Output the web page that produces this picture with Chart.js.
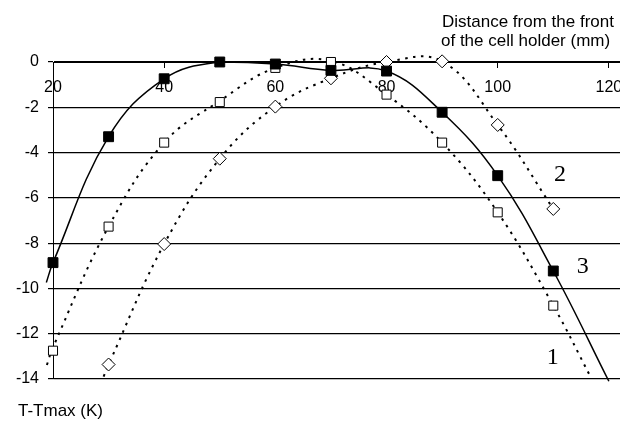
<!DOCTYPE html>
<html>

<head>
    <title>T - Tmax along the cell holder</title>
    <script src="https://cdn.jsdelivr.net/npm/chart.js"></script>
    <style>
        body { margin: 0; background: #fff; }
    </style>
</head>

<body>
    <canvas id="profileChart" width="620" height="421"></canvas>

    <script>
        // Measured points (distance in mm, T-Tmax in K)
        const dist1 = [20, 30, 40, 50, 60, 70, 80, 90, 100, 110];
        const temp1 = [-12.75, -7.27, -3.56, -1.77, -0.26, 0.0, -1.44, -3.56, -6.64, -10.76];

        const dist2 = [30, 40, 50, 60, 70, 80, 90, 100, 110];
        const temp2 = [-13.36, -8.04, -4.27, -1.97, -0.72, 0.0, 0.03, -2.78, -6.49];

        const dist3 = [20, 30, 40, 50, 60, 70, 80, 90, 100, 110];
        const temp3 = [-8.86, -3.3, -0.74, 0.0, -0.09, -0.37, -0.4, -2.22, -5.02, -9.23];

        // Fitted curves (they run a bit past the points)
        const fit1X = [18.9, 20, 30, 40, 50, 60, 70, 80, 90, 100, 110, 116.8];
        const fit1Y = [-13.38, -12.6, -7.27, -3.56, -1.72, -0.26, 0.05, -1.44, -3.56, -6.64, -10.76, -13.95];

        const fit2X = [29.1, 30, 40, 50, 60, 70, 80, 90, 100, 110];
        const fit2Y = [-13.9, -13.36, -8.04, -4.27, -1.97, -0.72, 0.0, 0.03, -2.78, -6.49];

        const fit3X = [18.8, 20, 30, 40, 50, 60, 70, 80, 90, 100, 110, 120];
        const fit3Y = [-9.74, -8.86, -3.3, -0.74, 0.0, -0.09, -0.37, -0.4, -2.22, -5.02, -9.23, -14.1];

        // curve numbers written next to the curves
        const curveNames = ['1', '2', '3'];
        const nameX = [109.9, 111.2, 115.3];
        const nameY = [-13.07, -4.99, -9.05];

        const xTicks = [20, 40, 60, 80, 100, 120];
        const yTicks = [0, -2, -4, -6, -8, -10, -12, -14];

        const toPts = (xs, ys) => xs.map((x, i) => ({ x: x, y: ys[i] }));

        const textPlugin = {
            id: 'captions',
            afterDraw(chart) {
                const ctx = chart.ctx;
                const xs = chart.scales.x, ys = chart.scales.y;
                ctx.save();
                ctx.fillStyle = '#000';
                ctx.font = '17px "Liberation Sans", Arial, sans-serif';
                ctx.textAlign = 'left';
                ctx.textBaseline = 'alphabetic';
                ctx.fillText('Distance from the front', 442, 27);
                ctx.fillText('of the cell holder (mm)', 441, 46);
                ctx.fillText('T-Tmax (K)', 18, 416);

                ctx.font = '24px "Liberation Serif", "Times New Roman", serif';
                ctx.textAlign = 'center';
                ctx.textBaseline = 'middle';
                curveNames.forEach((n, i) => {
                    ctx.fillText(n, xs.getPixelForValue(nameX[i]), ys.getPixelForValue(nameY[i]));
                });
                ctx.restore();
            }
        };

        const dotted = [2.5, 5.5];

        const ctx = document.getElementById('profileChart').getContext('2d');
        const profileChart = new Chart(ctx, {
            type: 'scatter',
            data: {
                datasets: [
                    {
                        // curve 3 points (filled squares)
                        data: toPts(dist3, temp3),
                        showLine: false,
                        pointStyle: 'rect',
                        pointRadius: 7,
                        backgroundColor: '#000',
                        borderColor: '#000',
                        borderWidth: 1,
                        clip: false,
                        order: 1
                    },
                    {
                        // curve 1 points (open squares)
                        data: toPts(dist1, temp1),
                        showLine: false,
                        pointStyle: 'rect',
                        pointRadius: 6.4,
                        backgroundColor: '#fff',
                        borderColor: '#000',
                        borderWidth: 1,
                        clip: false,
                        order: 2
                    },
                    {
                        // curve 2 points (open diamonds)
                        data: toPts(dist2, temp2),
                        showLine: false,
                        pointStyle: 'rectRot',
                        pointRadius: 6.5,
                        backgroundColor: '#fff',
                        borderColor: '#000',
                        borderWidth: 1,
                        clip: false,
                        order: 3
                    },
                    {
                        data: toPts(fit3X, fit3Y),
                        showLine: true,
                        pointRadius: 0,
                        borderColor: '#000',
                        borderWidth: 1.5,
                        tension: 0.4,
                        clip: false,
                        order: 4
                    },
                    {
                        data: toPts(fit1X, fit1Y),
                        showLine: true,
                        pointRadius: 0,
                        borderColor: '#000',
                        borderWidth: 2,
                        borderDash: dotted,
                        tension: 0.4,
                        clip: false,
                        order: 5
                    },
                    {
                        data: toPts(fit2X, fit2Y),
                        showLine: true,
                        pointRadius: 0,
                        borderColor: '#000',
                        borderWidth: 2,
                        borderDash: dotted,
                        tension: 0.4,
                        clip: false,
                        order: 6
                    }
                ]
            },
            options: {
                responsive: false,
                animation: false,
                layout: { autoPadding: false, padding: { left: 0, right: 0, top: 62, bottom: 42 } },
                plugins: {
                    legend: { display: false },
                    tooltip: { enabled: false }
                },
                scales: {
                    x: {
                        type: 'linear',
                        position: { y: 0 },
                        min: 20,
                        max: 122,
                        afterBuildTicks(scale) {
                            scale.ticks = xTicks.map(v => ({ value: v }));
                        },
                        afterFit(scale) {
                            scale.paddingLeft = 0;
                            scale.paddingRight = 0;
                        },
                        ticks: {
                            color: '#000',
                            padding: 11,
                            maxRotation: 0,
                            font: { family: '"Liberation Sans", Arial, sans-serif', size: 16 }
                        },
                        grid: {
                            drawOnChartArea: false,
                            drawTicks: true,
                            tickLength: 5,
                            color: '#000'
                        },
                        border: { display: true, color: '#000', width: 1 }
                    },
                    y: {
                        type: 'linear',
                        position: 'left',
                        min: -14,
                        max: 0,
                        afterBuildTicks(scale) {
                            scale.ticks = yTicks.map(v => ({ value: v }));
                        },
                        afterFit(scale) {
                            scale.width = 53;
                        },
                        ticks: {
                            color: '#000',
                            padding: 9,
                            font: { family: '"Liberation Sans", Arial, sans-serif', size: 16 }
                        },
                        grid: {
                            color: '#000',
                            lineWidth: 1.2,
                            tickLength: 5
                        },
                        border: { display: true, color: '#000', width: 1 }
                    }
                }
            },
            plugins: [textPlugin]
        });
    </script>
</body>

</html>
